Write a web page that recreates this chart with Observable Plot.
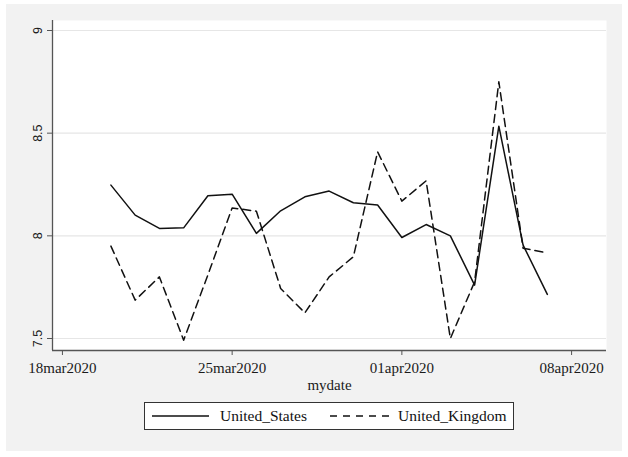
<!DOCTYPE html>
<html>
<head>
<meta charset="utf-8">
<script src="https://cdn.jsdelivr.net/npm/d3@7"></script>
<script src="https://cdn.jsdelivr.net/npm/@observablehq/plot@0.6"></script>
<style>
  body { margin: 0; background: #fff; width: 628px; height: 457px; position: relative; overflow: hidden; }
  #bg { position: absolute; left: 6px; top: 4px; width: 616px; height: 447px; background: #f2f2f2; }
  #chart { position: absolute; left: 0; top: 0; }
  #legend { position: absolute; left: 144px; top: 402px; width: 368px; height: 26px; background: #fff; border: 1px solid #333;
            font-family: "Liberation Serif", "Times New Roman", serif; font-size: 15.5px; color: #111; }
  #legend .item { position: absolute; top: 0; height: 26px; display: flex; align-items: center; }
  #legend svg { display: block; }
</style>
</head>
<body>
<div id="bg"></div>
<div id="chart"></div>
<div id="legend"></div>
<script>
// ---- data ----
const dates = ["2020-03-20","2020-03-21","2020-03-22","2020-03-23","2020-03-24","2020-03-25","2020-03-26",
               "2020-03-27","2020-03-28","2020-03-29","2020-03-30","2020-03-31","2020-04-01","2020-04-02",
               "2020-04-03","2020-04-04","2020-04-05","2020-04-06","2020-04-07"];
const unitedStates = [8.247, 8.101, 8.036, 8.039, 8.195, 8.203, 8.012, 8.122, 8.190, 8.218, 8.161, 8.150,
                      7.992, 8.055, 8.000, 7.760, 8.534, 7.955, 7.715];
const unitedKingdom = [7.950, 7.687, 7.800, 7.492, 7.810, 8.136, 8.120, 7.744, 7.625, 7.800, 7.898, 8.409,
                       8.169, 8.268, 7.500, 7.776, 8.750, 7.940, 7.917];
const seriesNames = ["United_States", "United_Kingdom"];
const yTicks = [7.5, 8, 8.5, 9];
const xTickDates = ["2020-03-18", "2020-03-25", "2020-04-01", "2020-04-08"];
const xLabel = "mydate";

// ---- build tables ----
const parse = d3.utcParse("%Y-%m-%d");
const usData = dates.map((d, i) => ({date: parse(d), value: unitedStates[i]}));
const ukData = dates.map((d, i) => ({date: parse(d), value: unitedKingdom[i]}));
const xTicks = xTickDates.map(parse);
const fmt = d3.utcFormat("%d%b%Y");

// plot-region padding around the data range (Stata style)
const xDomain = [new Date(Date.UTC(2020, 2, 17, 14, 10)), new Date(Date.UTC(2020, 3, 9, 10, 34))];
const yDomain = [7.4416, 9.0487];

const serif = "'Liberation Serif', 'Times New Roman', serif";
const sans = "'Liberation Sans', Arial, sans-serif";

const chart = Plot.plot({
  width: 628,
  height: 400,
  marginLeft: 52,
  marginRight: 22,
  marginTop: 20,
  marginBottom: 50,
  style: {background: "transparent", color: "#1a1a1a", overflow: "visible"},
  x: {type: "utc", domain: xDomain},
  y: {domain: yDomain},
  marks: [
    Plot.frame({fill: "white", stroke: "none"}),
    Plot.ruleY(yTicks, {stroke: "#e6e6e6", strokeWidth: 1.2}),
    Plot.ruleY([yDomain[0]], {stroke: "#555", strokeWidth: 1.3}),
    Plot.ruleX([xDomain[0]], {stroke: "#555", strokeWidth: 1.3}),
    Plot.axisY({ticks: yTicks, tickSize: 5, tickRotate: -90, tickPadding: 6, tickFormat: d => String(d),
                label: null, stroke: "#555", fontFamily: sans, fontSize: 12.5}),
    Plot.axisX({ticks: xTicks, tickSize: 5, tickPadding: 7, tickFormat: d => fmt(d).toLowerCase(),
                label: null, stroke: "#555", fontFamily: serif, fontSize: 15}),
    Plot.text([xLabel], {frameAnchor: "bottom", dy: 35, text: d => d, fontFamily: serif, fontSize: 15,
                         fill: "#1a1a1a", lineAnchor: "middle"}),
    Plot.line(usData, {x: "date", y: "value", stroke: "#111", strokeWidth: 1.5}),
    Plot.line(ukData, {x: "date", y: "value", stroke: "#111", strokeWidth: 1.5, strokeDasharray: "8,5"})
  ]
});
// make sure the font settings reach every text node
const sel = d3.select(chart);
sel.selectAll('g[aria-label="x-axis tick label"] text').style("font-family", serif).style("font-size", "15px");
sel.selectAll('g[aria-label="y-axis tick label"] text').style("font-family", sans).style("font-size", "12.5px");
document.getElementById("chart").appendChild(chart);

// ---- legend ----
const legend = d3.select("#legend");
const items = [
  {name: seriesNames[0], dash: null, left: 7, w: 57, textLeft: 75},
  {name: seriesNames[1], dash: "7,6", left: 185, w: 60, textLeft: 253}
];
for (const it of items) {
  const s = legend.append("div").attr("class", "item").style("left", it.left + "px");
  const svg = s.append("svg").attr("width", it.w).attr("height", 4);
  svg.append("line").attr("x1", 0).attr("x2", it.w).attr("y1", 2).attr("y2", 2)
     .attr("stroke", "#111").attr("stroke-width", 1.5).attr("stroke-dasharray", it.dash);
  legend.append("div").attr("class", "item").style("left", it.textLeft + "px").text(it.name);
}
</script>
</body>
</html>
